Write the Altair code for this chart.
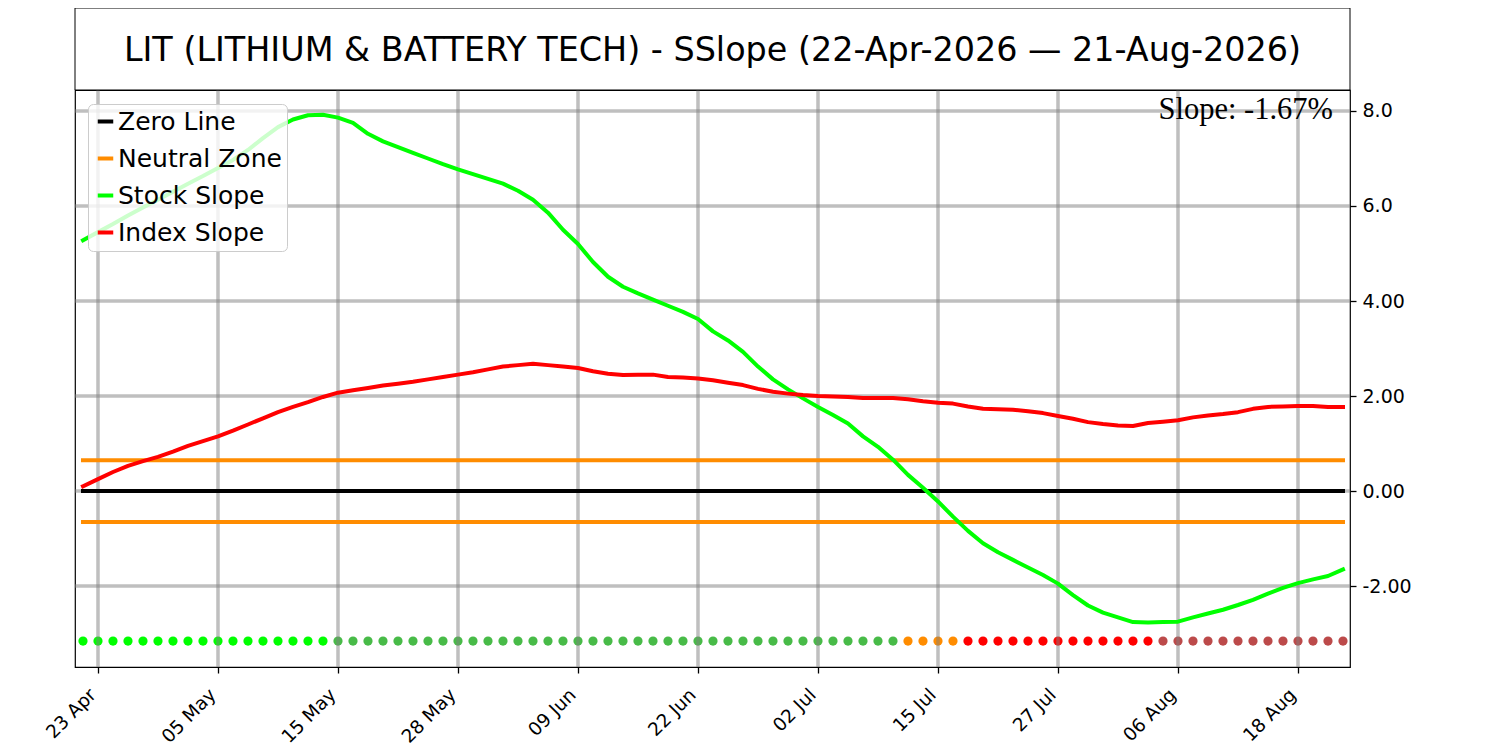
import altair as alt
import pandas as pd

# ---------------- data ----------------
title_text = "LIT (LITHIUM & BATTERY TECH) - SSlope (22-Apr-2026 \u2014 21-Aug-2026)"
slope_text = "Slope: -1.67%"

tick_idx = [1, 9, 17, 25, 33, 41, 49, 57, 65, 73, 81]
tick_labels = ["23 Apr", "05 May", "15 May", "28 May", "09 Jun", "22 Jun",
               "02 Jul", "15 Jul", "27 Jul", "06 Aug", "18 Aug"]

y_ticks = [-2, 0, 2, 4, 6, 8]
y_tick_labels = ["-2.00", "0.00", "2.00", "4.00", "6.0", "8.0"]

stock_slope = [
    5.28, 5.45, 5.62, 5.80, 5.97, 6.13, 6.30, 6.47, 6.63, 6.80,
    6.97, 7.18, 7.43, 7.66, 7.82, 7.91, 7.92, 7.86, 7.75, 7.52,
    7.36, 7.24, 7.12, 7.00, 6.88, 6.77, 6.67, 6.57, 6.47, 6.32,
    6.13, 5.86, 5.50, 5.20, 4.82, 4.51, 4.30, 4.16, 4.03, 3.90,
    3.77, 3.62, 3.36, 3.17, 2.93, 2.62, 2.35, 2.14, 1.95, 1.77,
    1.60, 1.42, 1.15, 0.93, 0.66, 0.34, 0.07, -0.22, -0.54, -0.84,
    -1.10, -1.29, -1.45, -1.61, -1.77, -1.95, -2.19, -2.41, -2.56, -2.66,
    -2.76, -2.77, -2.76, -2.75, -2.66, -2.58, -2.50, -2.40, -2.29, -2.16,
    -2.04, -1.94, -1.86, -1.79, -1.65,
]

index_slope = [
    0.10, 0.25, 0.40, 0.53, 0.63, 0.72, 0.83, 0.95, 1.05, 1.15,
    1.27, 1.40, 1.53, 1.66, 1.77, 1.87, 1.98, 2.07, 2.12, 2.17,
    2.22, 2.26, 2.30, 2.35, 2.40, 2.45, 2.50, 2.56, 2.62, 2.65,
    2.68, 2.65, 2.62, 2.59, 2.52, 2.47, 2.44, 2.45, 2.45, 2.40,
    2.39, 2.37, 2.33, 2.28, 2.23, 2.15, 2.09, 2.05, 2.02, 2.00,
    1.99, 1.98, 1.96, 1.96, 1.96, 1.93, 1.89, 1.86, 1.84, 1.78,
    1.73, 1.72, 1.71, 1.68, 1.64, 1.58, 1.52, 1.45, 1.41, 1.38,
    1.37, 1.43, 1.46, 1.49, 1.55, 1.59, 1.62, 1.66, 1.73, 1.77,
    1.78, 1.79, 1.79, 1.77, 1.77,
]

dot_state = (["strong_up"] * 17 + ["up"] * 38 + ["neutral"] * 4 +
             ["down"] * 13 + ["weak_down"] * 13)
state_colors = {"strong_up": "#00ff00", "up": "#48bb48", "neutral": "#ff8c00",
                "down": "#ff0000", "weak_down": "#bc4a4a"}
dot_level = -3.16

zero_level = 0.0
neutral_band = 0.65

series_names = ["Zero Line", "Neutral Zone", "Stock Slope", "Index Slope"]
series_colors = ["#000000", "#ff8c00", "#00ff00", "#ff0000"]

# ---------------- tables ----------------
n = len(stock_slope)
idx = list(range(n))

stock_df = pd.DataFrame({"idx": idx, "value": stock_slope, "series": "Stock Slope"})
index_df = pd.DataFrame({"idx": idx, "value": index_slope, "series": "Index Slope"})
zero_df = pd.DataFrame({"idx": [0, n - 1], "value": [zero_level, zero_level], "series": "Zero Line"})
neutral_df = pd.DataFrame({
    "idx": [0, n - 1, 0, n - 1],
    "value": [neutral_band, neutral_band, -neutral_band, -neutral_band],
    "series": "Neutral Zone",
    "grp": ["hi", "hi", "lo", "lo"],
})
dots_df = pd.DataFrame({"idx": idx, "value": [dot_level] * n,
                        "color": [state_colors[s] for s in dot_state]})
xgrid_df = pd.DataFrame({"idx": tick_idx})
ygrid_df = pd.DataFrame({"value": y_ticks})
title_df = pd.DataFrame({"t": [title_text]})
slope_df = pd.DataFrame({"t": [slope_text]})

W, H = 1275, 577
x_scale = alt.Scale(domain=[-0.533, 84.467], nice=False, zero=False)
y_scale = alt.Scale(domain=[-3.705, 8.442], nice=False, zero=False)

x_label_expr = "[" + ",".join(f"'{t}'" for t in tick_labels) + "][(datum.value-1)/8]"
y_label_expr = "{" + ",".join(f"'{v}':'{l}'" for v, l in zip(y_ticks, y_tick_labels)) + "}[datum.value]"

x_enc = alt.X("idx:Q", scale=x_scale, title=None,
              axis=alt.Axis(values=tick_idx, labelExpr=x_label_expr, grid=False,
                            domain=False, ticks=True, tickSize=6, tickWidth=1.3,
                            tickColor="black", labelColor="black",
                            labelFont="DejaVu Sans", labelFontSize=18.5,
                            labelAngle=-45, labelAlign="right", labelBaseline="top",
                            labelPadding=12, labelOffset=-12, labelOverlap=False))
y_enc = alt.Y("value:Q", scale=y_scale, title=None,
              axis=alt.Axis(orient="right", values=y_ticks, labelExpr=y_label_expr,
                            grid=False, domain=False, tickSize=6, tickWidth=1.3,
                            tickColor="black", labelColor="black",
                            labelFont="DejaVu Sans", labelFontSize=19,
                            labelPadding=6))

color_enc = alt.Color("series:N",
                      scale=alt.Scale(domain=series_names, range=series_colors),
                      legend=alt.Legend(title=None, orient="none", legendX=13, legendY=14,
                                        symbolType="stroke", symbolStrokeWidth=4,
                                        symbolSize=240, labelFont="DejaVu Sans",
                                        labelFontSize=25, labelColor="black",
                                        labelOffset=0, rowPadding=11, padding=5,
                                        labelLimit=400,
                                        fillColor="rgba(255,255,255,0.8)",
                                        strokeColor="#cccccc", cornerRadius=5))

dots = alt.Chart(dots_df).mark_circle(size=85, opacity=1).encode(
    x=x_enc, y=y_enc, color=alt.Color("color:N", scale=None))

xgrid = alt.Chart(xgrid_df).mark_rule(color="#808080", opacity=0.5, strokeWidth=3.5).encode(
    x=alt.X("idx:Q", scale=x_scale))
ygrid = alt.Chart(ygrid_df).mark_rule(color="#808080", opacity=0.5, strokeWidth=3.5).encode(
    y=alt.Y("value:Q", scale=y_scale))

line_style = dict(strokeWidth=4, strokeCap="square", strokeJoin="round")
zero_line = alt.Chart(zero_df).mark_line(**line_style).encode(x=x_enc, y=y_enc, color=color_enc)
neutral_line = alt.Chart(neutral_df).mark_line(**line_style).encode(
    x=x_enc, y=y_enc, color=color_enc, detail="grp:N")
stock_line = alt.Chart(stock_df).mark_line(**line_style).encode(x=x_enc, y=y_enc, color=color_enc)
index_line = alt.Chart(index_df).mark_line(**line_style).encode(x=x_enc, y=y_enc, color=color_enc)

slope_label = alt.Chart(slope_df).mark_text(
    font="Liberation Serif", fontSize=30.5, align="right", baseline="alphabetic", color="black"
).encode(x=alt.value(1258), y=alt.value(29), text="t:N")

title_box = alt.Chart(title_df).mark_rect(fill="white", stroke="black", strokeWidth=1).encode(
    x=alt.value(0), x2=alt.value(W), y=alt.value(-82), y2=alt.value(0))
title_label = alt.Chart(title_df).mark_text(
    font="DejaVu Sans", fontSize=33.4, align="center", baseline="alphabetic", color="black"
).encode(x=alt.value(W / 2), y=alt.value(-29), text="t:N")

chart = alt.layer(
    dots, xgrid, ygrid, zero_line, neutral_line, stock_line, index_line,
    slope_label, title_box, title_label
).properties(
    width=W, height=H,
    autosize=alt.AutoSizeParams(type="none"),
    padding={"left": 67, "top": 82, "right": 70, "bottom": 80},
).configure_view(stroke="black", strokeWidth=1.2)

chart.save("out.html", embed_options={"renderer": "svg", "actions": False})
